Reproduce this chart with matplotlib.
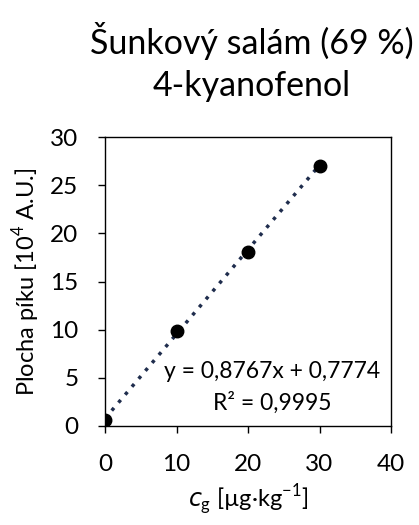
import matplotlib
matplotlib.use("Agg")
import matplotlib.pyplot as plt
import numpy as np

plt.rcParams["font.family"] = ["Lato", "DejaVu Sans"]

# data
conc = [0, 10, 20, 30]
area = [0.6, 9.9, 18.1, 27.0]
slope, intercept = 0.8767, 0.7774
r2 = 0.9995
x_ticks = [0, 10, 20, 30, 40]
y_ticks = [0, 5, 10, 15, 20, 25, 30]

fig = plt.figure(figsize=(4.19, 5.25), dpi=100)
ax = fig.add_axes([105 / 419, 1 - 426 / 525, 286 / 419, 289 / 525])

# trend line
xs = np.array([conc[0], conc[-1]])
ax.plot(xs, slope * xs + intercept, linestyle=(0, (1, 2.0)), color="#1f2d4d",
        linewidth=2.5, zorder=2)
ax.plot(conc, area, "o", color="black", markersize=9, zorder=3)

ax.set_xlim(0, 40)
ax.set_ylim(0, 30)
ax.set_xticks(x_ticks)
ax.set_yticks(y_ticks)
ax.tick_params(direction="out", length=5, width=1, labelsize=17.5, pad=15)
ax.tick_params(axis="y", pad=14)
for s in ax.spines.values():
    s.set_linewidth(1)

ax.set_xlabel(r"$c_\mathregular{g}$ [µg·kg$^\mathregular{-1}$]", fontsize=17, labelpad=6)
ax.set_ylabel(r"Plocha píku [10$^\mathregular{4}$ A.U.]", fontsize=17, labelpad=6)

ax.text(0.585, 0.187, "y = 0,8767x + 0,7774", transform=ax.transAxes,
        ha="center", va="center", fontsize=16.5)
ax.text(0.585, 0.08, "R² = 0,9995", transform=ax.transAxes,
        ha="center", va="center", fontsize=16.5)

fig.text(252 / 419, 1 - 41 / 525, "Šunkový salám (69 %)", ha="center", va="center",
         fontsize=24.5)
fig.text(252 / 419, 1 - 86 / 525, "4-kyanofenol", ha="center", va="center",
         fontsize=24.5)

fig.savefig("out.png", dpi=100)
